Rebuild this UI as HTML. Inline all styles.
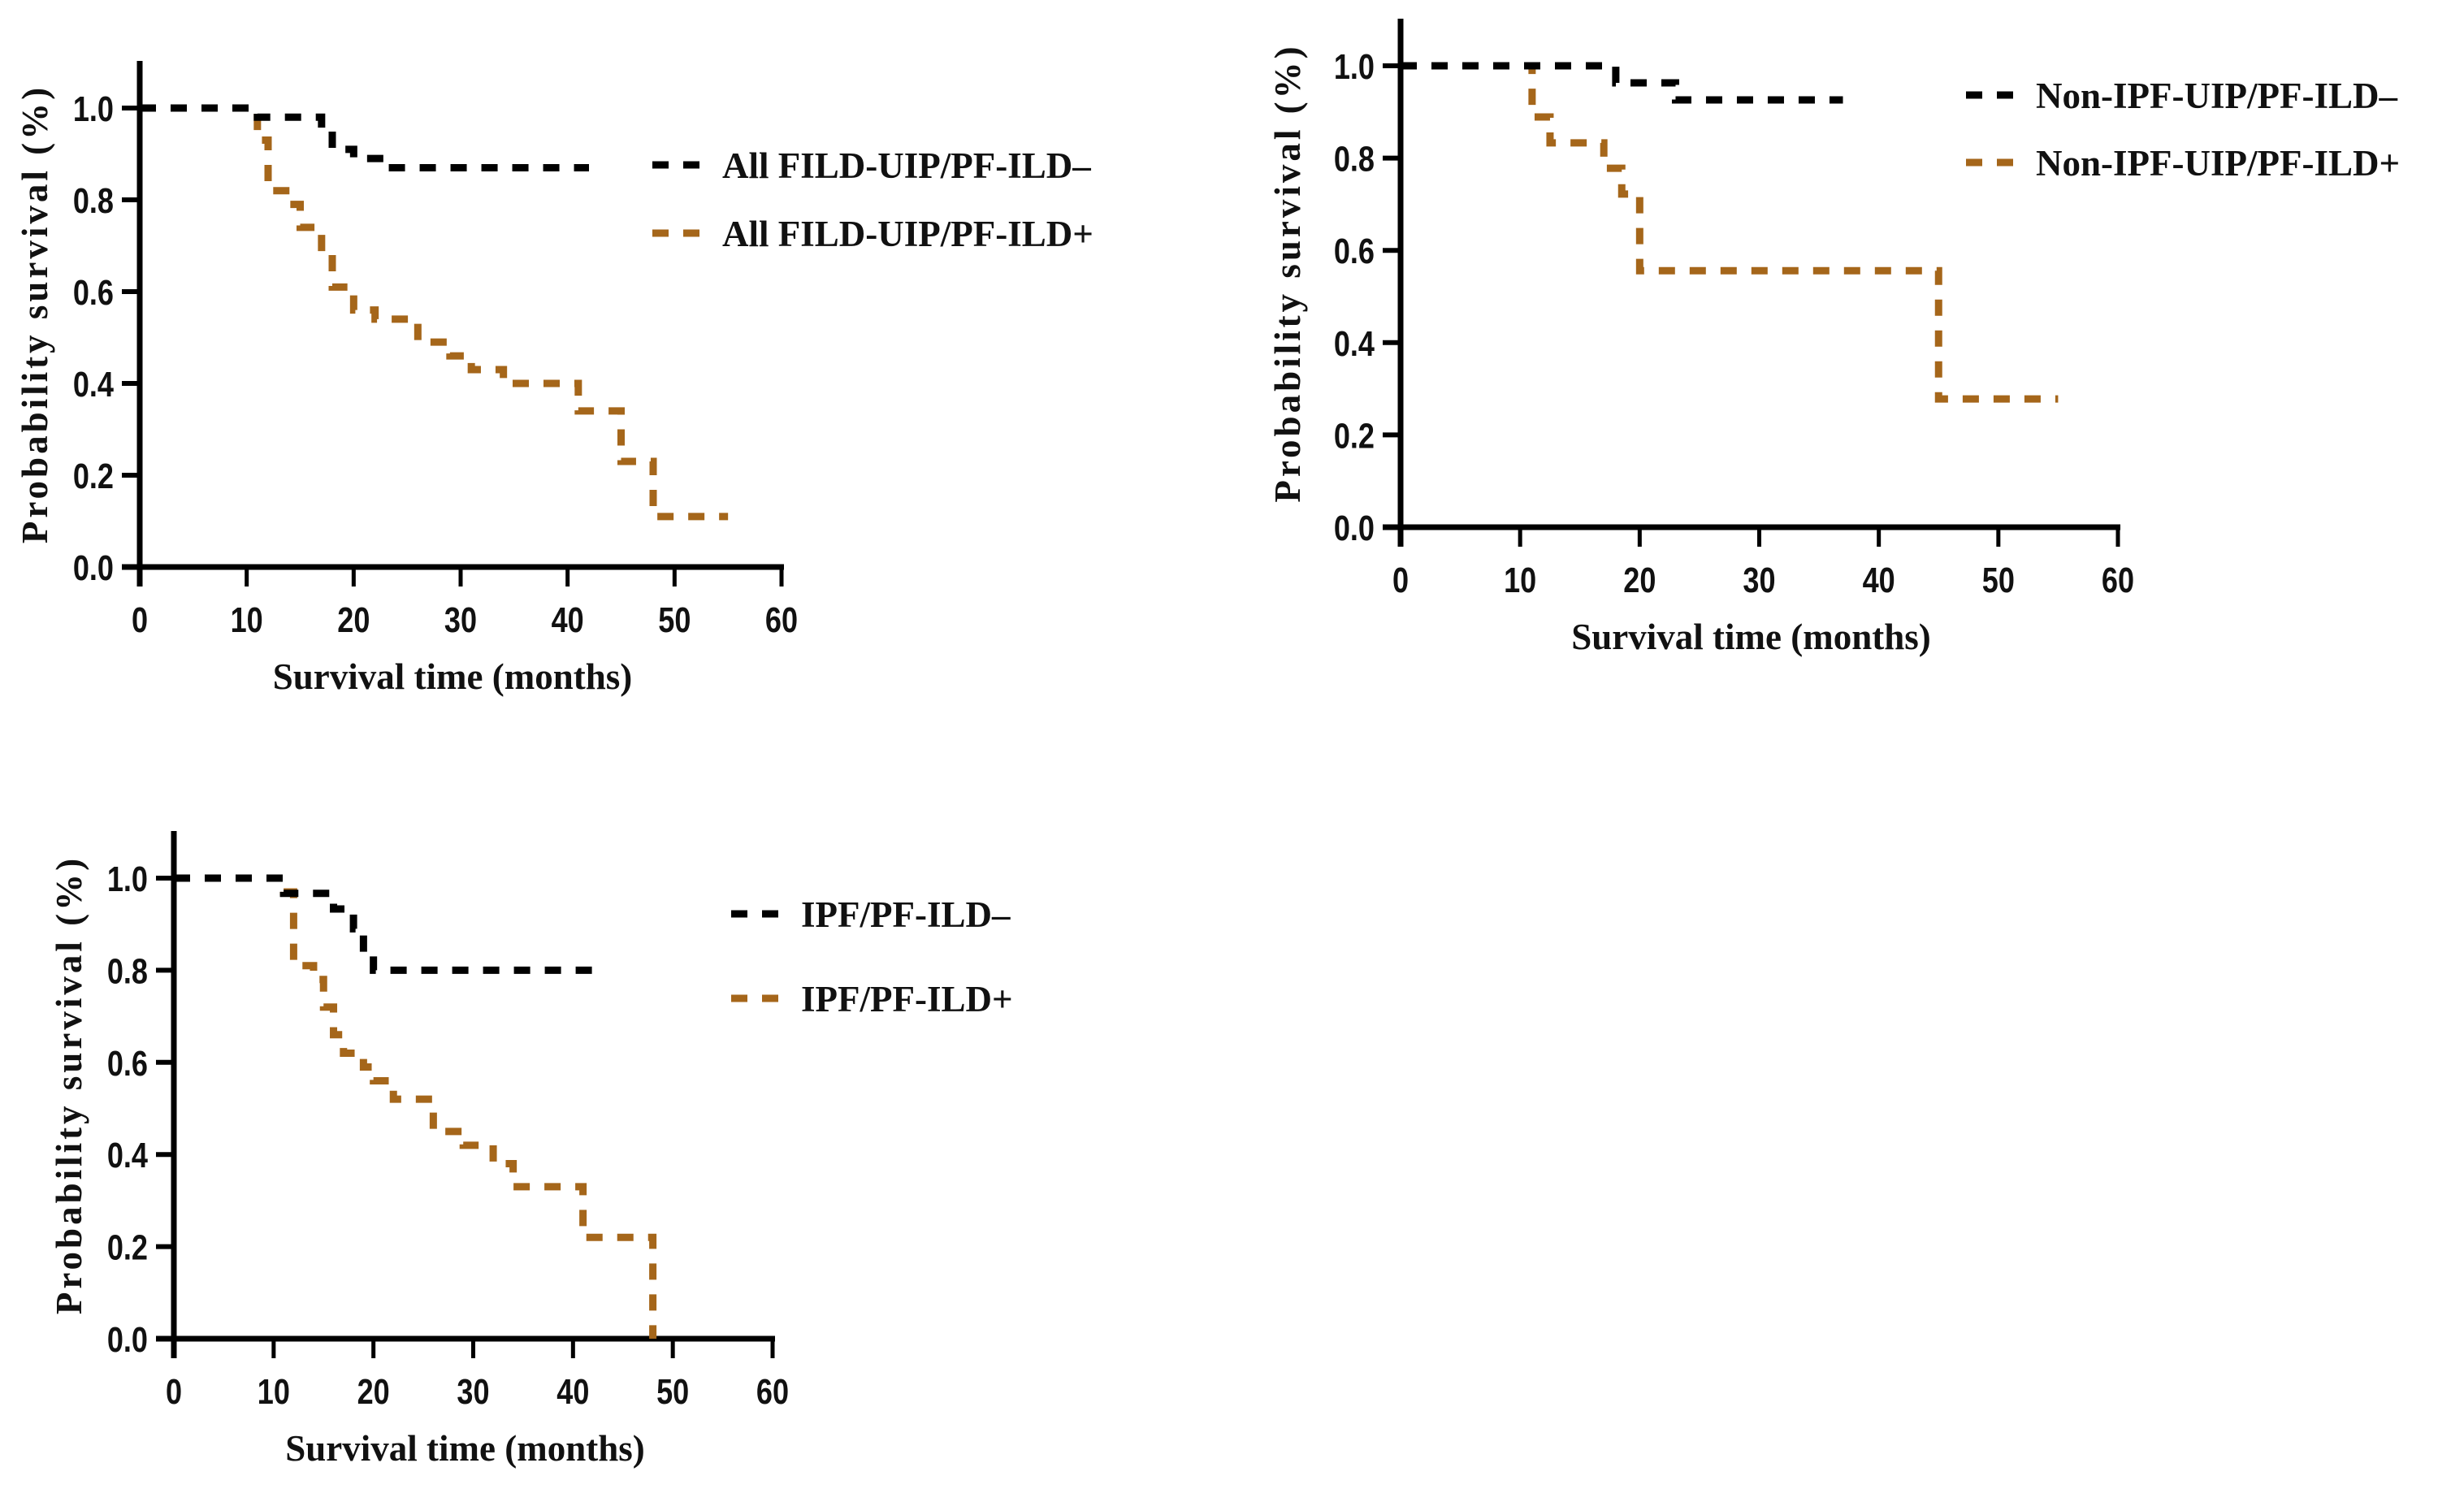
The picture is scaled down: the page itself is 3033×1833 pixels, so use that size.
<!DOCTYPE html>
<html><head><meta charset="utf-8"><style>
html,body{margin:0;padding:0;background:#fff;width:3033px;height:1833px;overflow:hidden}
svg{display:block}
.tick{font-family:"Liberation Sans",sans-serif;font-weight:bold;font-size:44px;fill:#111}
.ttl{font-family:"Liberation Serif",serif;font-weight:bold;font-size:45px;fill:#111}
.leg{font-family:"Liberation Serif",serif;font-weight:bold;font-size:45px;fill:#111}
</style></head><body>
<svg id="chart" width="3033" height="1833" viewBox="0 0 3033 1833" xmlns="http://www.w3.org/2000/svg"></svg>
<script>
// Panel A: All FILD-UIP
const aNegTimes=[0,11,17,18,20,23,42];
const aNegSurv=[1,0.98,0.95,0.91,0.89,0.87,0.87];
const aPosTimes=[0,11,12,14,15,17,18,20,22,26,29,31,34,41,45,48,55];
const aPosSurv=[1,0.93,0.82,0.79,0.74,0.68,0.61,0.56,0.54,0.49,0.46,0.43,0.40,0.34,0.23,0.11,0.11];
// Panel B: Non-IPF-UIP
const bNegTimes=[0,18,23,37];
const bNegSurv=[1,0.963,0.926,0.926];
const bPosTimes=[0,11,12.5,17,18.5,20,45,55];
const bPosSurv=[1,0.889,0.833,0.778,0.722,0.556,0.278,0.278];
// Panel C: IPF
const cNegTimes=[0,11,16,18,19,20,42];
const cNegSurv=[1,0.967,0.933,0.89,0.84,0.80,0.80];
const cPosTimes=[0,11,12,14,15,16,17,19,20,22,26,29,32,34,41,48];
const cPosSurv=[1,0.97,0.81,0.78,0.72,0.66,0.62,0.59,0.56,0.52,0.45,0.42,0.38,0.33,0.22,0];
const xTicks=[0,10,20,30,40,50,60];
const yTicks=[0,0.2,0.4,0.6,0.8,1.0];
const legA=["All FILD-UIP/PF-ILD\u2013","All FILD-UIP/PF-ILD+"];
const legB=["Non-IPF-UIP/PF-ILD\u2013","Non-IPF-UIP/PF-ILD+"];
const legC=["IPF/PF-ILD\u2013","IPF/PF-ILD+"];

const NS="http://www.w3.org/2000/svg";
const svg=document.getElementById('chart');
const ORANGE="#A5661A";
function mk(tag,attrs,parent){const e=document.createElementNS(NS,tag);for(const k in attrs)e.setAttribute(k,attrs[k]);parent.appendChild(e);return e;}

function panel(id,P,negT,negS,posT,posS,leg){
  const g=mk('g',{},svg);
  
  
  const sx=v=>P.x0+(P.x1-P.x0)*v/60;
  const sy=v=>P.y0-(P.y0-P.y1)*v;
  const ya=mk('line',{x1:P.x0,y1:P.top,x2:P.x0,y2:P.y0+24,stroke:'#000','stroke-width':7},g);
  
  
  const xa=mk('line',{x1:P.x0-22,y1:P.y0,x2:sx(60)+3,y2:P.y0,stroke:'#000','stroke-width':7},g);
  
  
  xTicks.forEach(t=>{
    const l=mk('line',{x1:sx(t),y1:P.y0,x2:sx(t),y2:P.y0+24,stroke:'#000','stroke-width':5},g);
    
    
    const tx=mk('text',{x:sx(t),y:P.y0+80,'text-anchor':'middle',class:'tick',transform:`translate(${sx(t)},0) scale(0.82,1) translate(${-sx(t)},0)`},g);
    tx.textContent=t;
    
    
  });
  yTicks.forEach(t=>{
    const l=mk('line',{x1:P.x0-22,y1:sy(t),x2:P.x0,y2:sy(t),stroke:'#000','stroke-width':6},g);
    
    
    const xx=P.x0-32;
    const tx=mk('text',{x:xx,y:sy(t)+16,'text-anchor':'end',class:'tick',transform:`translate(${xx},0) scale(0.82,1) translate(${-xx},0)`},g);
    tx.textContent=t.toFixed(1);
    
    
  });
  const xt=mk('text',{x:(P.x0+sx(60))/2-10,y:P.y0+150,'text-anchor':'middle',class:'ttl'},g);
  xt.textContent='Survival time (months)';
  
  
  const cy=(P.y0+P.top)/2;
  const yt=mk('text',{x:P.ytx,y:cy,'text-anchor':'middle',class:'ttl',transform:`rotate(-90 ${P.ytx} ${cy})`,'letter-spacing':'4'},g);
  yt.textContent='Probability survival (%)';
  
  
  function step(T,S,color,name){
    let d=`M${sx(T[0])},${sy(S[0])}`;
    for(let i=1;i<T.length;i++){d+=` H${sx(T[i])} V${sy(S[i])}`;}
    const p=mk('path',{d:d,fill:'none',stroke:color,'stroke-width':9,'stroke-dasharray':'20 18'},g);
    
    
  }
  step(posT,posS,ORANGE,'curve-pf-ild-positive');
  step(negT,negS,'#000','curve-pf-ild-negative');
  [['#000',leg[0],P.ly1],[ORANGE,leg[1],P.ly2]].forEach(([c,txt,y],i)=>{
    const ln=mk('line',{x1:P.lx,y1:y,x2:P.lx+60,y2:y,stroke:c,'stroke-width':9,'stroke-dasharray':'20 18'},g);
    
    
    const t=mk('text',{x:P.lx+86,y:y+16,class:'leg'},g);
    t.textContent=txt;
    
    
  });
}
panel('all-fild',{x0:172,x1:962,y0:698,y1:133,top:75,ytx:58,lx:803,ly1:203,ly2:287},aNegTimes,aNegSurv,aPosTimes,aPosSurv,legA);
panel('non-ipf',{x0:1724,x1:2607,y0:649,y1:81,top:23,ytx:1600,lx:2420,ly1:117,ly2:200},bNegTimes,bNegSurv,bPosTimes,bPosSurv,legB);
panel('ipf',{x0:214,x1:951,y0:1648,y1:1081,top:1023,ytx:100,lx:900,ly1:1125,ly2:1229},cNegTimes,cNegSurv,cPosTimes,cPosSurv,legC);
</script>
</body></html>
